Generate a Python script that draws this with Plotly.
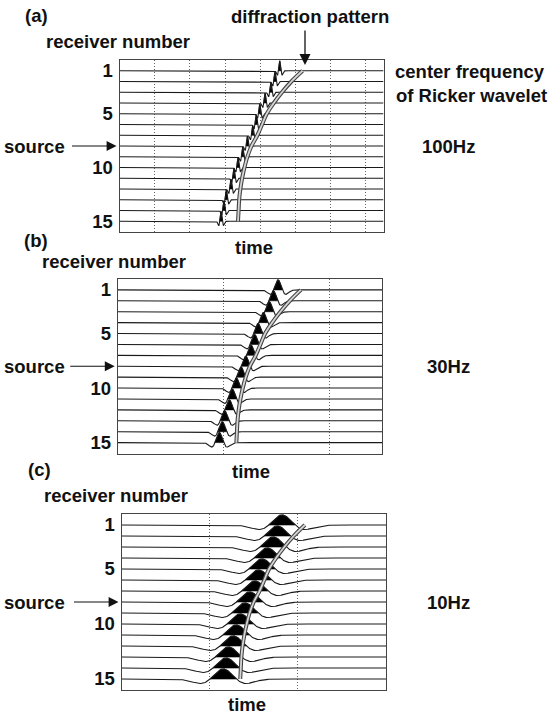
import numpy as np
import plotly.graph_objects as go

W, H = 549, 718

# ---- data ----------------------------------------------------------------
receivers = list(range(1, 16))
# time of the main (positive) peak of the recorded wavelet at each receiver, ms
arrival_ms = [273, 265, 258, 248, 239, 233, 227, 218, 210, 202, 195, 190, 182, 178, 173]
# theoretical diffraction travel-time curve at each receiver, ms
diffraction_ms = [312, 293, 277, 263, 251, 243, 235, 225, 218, 213, 209, 206, 204, 203, 202]
# centre frequency of the Ricker wavelet for each panel
frequencies_hz = [100, 30, 10]
panel_tags = ["(a)", "(b)", "(c)"]
freq_labels = ["100Hz", "30Hz", "10Hz"]
# dotted time grid for each panel, ms
grid_a = [0, 60, 120, 180, 240, 300, 360, 420]
grid_b = [0, 180, 360]
grid_c = [0, 150, 300, 450]
receiver_ticks = [1, 5, 10, 15]
source_receiver = 8
time_range = [0, 450]
trace_gain = 0.92

# ---- layout (pixel boxes of the three panels) ------------------------------
boxes = [  # left, right, top, bottom in px
    (119.5, 383.5, 60, 232),
    (117.7, 382.0, 279, 453.5),
    (121.5, 386.0, 514, 690),
]
grids = [grid_a, grid_b, grid_c]

FONT = "Liberation Sans, Arial, Helvetica, sans-serif"
INK = "#1a1a1a"
FS = 18.5


def px(x):
    return x / W


def py(y):
    return 1 - y / H


def ricker(t_ms, t0_ms, f):
    tau = (np.asarray(t_ms) - t0_ms) / 1000.0
    a = (np.pi * f * tau) ** 2
    return (1 - 2 * a) * np.exp(-a)


def label(txt, x, y, **kw):
    return dict(x=px(x), y=py(y), xref="paper", yref="paper", text=txt,
                showarrow=False, xanchor="center", yanchor="middle",
                font=dict(family=FONT, size=FS, color="#111", weight="bold"), **kw)


fig = go.Figure()
annotations = []

for k, f in enumerate(frequencies_hz):
    xa = "x" if k == 0 else f"x{k + 1}"
    ya = "y" if k == 0 else f"y{k + 1}"
    half_ms = 1000.0 / (np.pi * f * np.sqrt(2))  # zero crossing of central lobe

    line_x, line_y, fill_x, fill_y = [], [], [], []
    for r, t0 in zip(receivers, arrival_ms):
        t = np.unique(np.concatenate([
            np.linspace(time_range[0], time_range[1], 451),
            np.linspace(t0 - 6 * half_ms, t0 + 6 * half_ms, 240),
        ]))
        t = t[(t >= time_range[0]) & (t <= time_range[1])]
        w = ricker(t, t0, f)
        line_x += list(t) + [None]
        line_y += list(r - trace_gain * w) + [None]
        # filled positive lobe (variable-area)
        tl = np.linspace(t0 - half_ms, t0 + half_ms, 80)
        wl = ricker(tl, t0, f)
        fill_x += list(tl) + [t0 + half_ms, t0 - half_ms, None]
        fill_y += list(r - trace_gain * wl) + [r, r, None]

    fig.add_trace(go.Scatter(x=fill_x, y=fill_y, mode="lines", fill="toself",
                             fillcolor="#000", line=dict(width=0.6, color="#000"),
                             xaxis=xa, yaxis=ya, hoverinfo="skip", showlegend=False))
    fig.add_trace(go.Scatter(x=line_x, y=line_y, mode="lines",
                             line=dict(width=1.1, color=INK),
                             xaxis=xa, yaxis=ya, hoverinfo="skip", showlegend=False))
    # diffraction travel-time curve: dark double line with light core
    fig.add_trace(go.Scatter(x=diffraction_ms, y=receivers, mode="lines",
                             line=dict(width=4, color="#444", shape="spline"),
                             xaxis=xa, yaxis=ya, hoverinfo="skip", showlegend=False))
    fig.add_trace(go.Scatter(x=diffraction_ms, y=receivers, mode="lines",
                             line=dict(width=1.8, color="#d4d4d4", shape="spline"),
                             xaxis=xa, yaxis=ya, hoverinfo="skip", showlegend=False))

    l, r_, t_, b_ = boxes[k]
    xkey = "xaxis" if k == 0 else f"xaxis{k + 1}"
    ykey = "yaxis" if k == 0 else f"yaxis{k + 1}"
    fig.layout[xkey] = dict(
        domain=[px(l), px(r_)], range=time_range, anchor=ya,
        tickvals=grids[k], showticklabels=False, ticks="",
        showgrid=True, gridcolor="#666", griddash="1px,2px", gridwidth=1,
        zeroline=False, showline=True, linecolor="#444", linewidth=1, mirror=True,
    )
    fig.layout[ykey] = dict(
        domain=[py(b_), py(t_)], range=[16, 0], anchor=xa,
        tickvals=receiver_ticks, ticktext=[str(v) for v in receiver_ticks],
        tickfont=dict(family=FONT, size=FS, color="#111", weight="bold"),
        ticks="outside", ticklen=2, tickcolor="rgba(0,0,0,0)",
        showgrid=False, zeroline=False, showline=True, linecolor="#444",
        linewidth=1, mirror=True,
    )

    # source arrow pointing at the source receiver
    ys = t_ + (b_ - t_) * source_receiver / 16.0
    annotations.append(dict(x=px(l - 3), y=py(ys), xref="paper", yref="paper",
                            text="", showarrow=True, arrowhead=2, arrowsize=1.8,
                            arrowwidth=1.1, arrowcolor="#111", ax=-46, ay=0))
    annotations.append(label("source", 34, ys))
    annotations.append(label(freq_labels[k], 448, ys))

# panel tags, axis titles and side notes
text_items = [
    ("(a)", 36, 15), ("(b)", 36, 240), ("(c)", 39, 469),
    ("receiver number", 118, 41), ("receiver number", 114, 261), ("receiver number", 116, 495),
    ("time", 254, 247), ("time", 251, 472), ("time", 247, 704),
    ("diffraction pattern", 310, 17),
    ("center frequency", 470, 71), ("of Ricker wavelet", 471, 96),
]
for txt, x, y in text_items:
    annotations.append(label(txt, x, y))

# arrow marking the diffraction pattern
annotations.append(dict(x=px(305), y=py(65), xref="paper", yref="paper", text="",
                        showarrow=True, arrowhead=2, arrowsize=1.7, arrowwidth=1.3,
                        arrowcolor="#111", ax=0, ay=-36))

fig.update_layout(
    width=W, height=H, margin=dict(l=0, r=0, t=0, b=0),
    paper_bgcolor="white", plot_bgcolor="white",
    annotations=annotations, showlegend=False,
)

fig.write_html("out.html")
